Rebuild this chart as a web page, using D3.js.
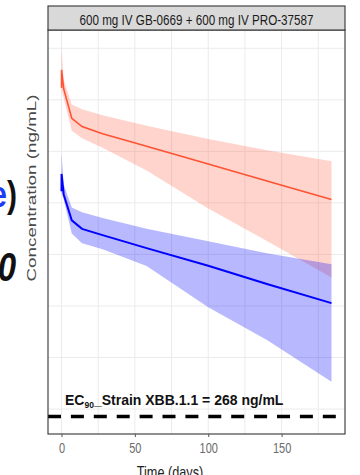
<!DOCTYPE html>
<html>
<head>
<meta charset="utf-8">
<script src="https://cdn.jsdelivr.net/npm/d3@7"></script>
<style>
  body { margin: 0; background: #fff; }
  svg { display: block; font-family: Arial, "Liberation Sans", sans-serif; }
</style>
</head>
<body>
<svg id="chart" width="360" height="475"></svg>
<script>
// time (days) and concentrations (ng/mL)
const days = [0, 0.04, 1.5, 7, 14, 28, 58, 100, 140, 184];

const redMedian = [413000, 617000, 403000, 209500, 174100, 148300, 112300, 75400, 51600, 34100];
const redLow    = [378000, 395000, 330000, 158600, 134200, 108600, 65100, 27900, 13500, 5970];
const redHigh   = [440000, 1000000, 494000, 284800, 255900, 223900, 177300, 131800, 102500, 80100];

const blueMedian = [41000, 60400, 38200, 21400, 17700, 15400, 11500, 7760, 5170, 3370];
const blueLow    = [38100, 39900, 34100, 16000, 12800, 11200, 7730, 3080, 1480, 583];
const blueHigh   = [43400, 96500, 47600, 28550, 25650, 22600, 17700, 13400, 10250, 8020];

const xTicks = [0, 50, 100, 150];
const xGrid = [0, 25, 50, 75, 100, 125, 150, 175];
const yGrid = [316, 1000, 3162, 10000, 31623, 100000, 316228, 1000000];
const ec90 = 268;

const stripTitle = '600 mg IV GB-0669 + 600 mg IV PRO-37587';

const svg = d3.select('#chart');
const panel = {left: 48, right: 345, stripTop: 6, top: 30, bottom: 434};

const x = d3.scaleLinear().domain([-9.2, 193.2]).range([panel.left, panel.right]);
const y = d3.scaleLog().domain([Math.pow(10, 2.2575), Math.pow(10, 6.1775)]).range([panel.bottom, panel.top]);

// cut-off slide text on the left
svg.append('text')
    .attr('transform', 'translate(17,207) scale(1,1.25)')
    .attr('text-anchor', 'end')
    .style('font-size', '30px').style('font-weight', 'bold')
    .call(t => {
        t.append('tspan').attr('fill', '#1f3cf5').text('e');
        t.append('tspan').attr('fill', '#111').text(')');
    });
svg.append('text')
    .attr('transform', 'translate(16,281) scale(1,1.25)')
    .attr('text-anchor', 'end')
    .style('font-size', '33px').style('font-weight', 'bold').style('font-style', 'italic')
    .attr('fill', '#111')
    .text('0');

// grid
const grid = svg.append('g');
grid.selectAll('.gx').data(xGrid).join('line')
    .attr('x1', d => x(d)).attr('x2', d => x(d))
    .attr('y1', panel.top).attr('y2', panel.bottom)
    .attr('stroke', '#ebebeb').attr('stroke-width', 1);
grid.selectAll('.gy').data(yGrid).join('line')
    .attr('x1', panel.left).attr('x2', panel.right)
    .attr('y1', d => y(d)).attr('y2', d => y(d))
    .attr('stroke', '#ebebeb').attr('stroke-width', 1);

const rows = days.map((d, i) => ({
    day: d,
    rMid: redMedian[i], rLo: redLow[i], rHi: redHigh[i],
    bMid: blueMedian[i], bLo: blueLow[i], bHi: blueHigh[i]
}));

const band = (lo, hi) => d3.area().x(d => x(d.day)).y0(d => y(d[lo])).y1(d => y(d[hi]));
const line = key => d3.line().x(d => x(d.day)).y(d => y(d[key]));

const plot = svg.append('g');
plot.append('path').datum(rows)
    .attr('d', band('rLo', 'rHi'))
    .attr('fill', '#ff6347').attr('opacity', 0.28);
plot.append('path').datum(rows)
    .attr('d', band('bLo', 'bHi'))
    .attr('fill', '#0000ff').attr('opacity', 0.28);
plot.append('path').datum(rows)
    .attr('d', line('rMid'))
    .attr('fill', 'none').attr('stroke', '#ff5233').attr('stroke-width', 1.6);
plot.append('path').datum(rows)
    .attr('d', line('bMid'))
    .attr('fill', 'none').attr('stroke', '#0000ff').attr('stroke-width', 2);

// EC90 reference line
svg.append('line')
    .attr('x1', panel.left).attr('x2', panel.right)
    .attr('y1', y(ec90)).attr('y2', y(ec90))
    .attr('stroke', '#000').attr('stroke-width', 3.5)
    .attr('stroke-dasharray', '13,9.9');

svg.append('text')
    .attr('x', 65).attr('y', 405)
    .style('font-size', '14px').style('font-weight', 'bold')
    .attr('fill', '#111')
    .call(t => {
        t.append('tspan').text('EC');
        t.append('tspan').attr('dy', 3).style('font-size', '8.5px').text('90');
        t.append('tspan').attr('dy', -3).text('_Strain XBB.1.1 = ' + ec90 + ' ng/mL');
    });

// panel border + strip
svg.append('rect')
    .attr('x', panel.left).attr('y', panel.top)
    .attr('width', panel.right - panel.left).attr('height', panel.bottom - panel.top)
    .attr('fill', 'none').attr('stroke', '#333').attr('stroke-width', 1.1);
svg.append('rect')
    .attr('x', panel.left).attr('y', panel.stripTop)
    .attr('width', panel.right - panel.left).attr('height', panel.top - panel.stripTop)
    .attr('fill', '#d9d9d9').attr('stroke', '#333').attr('stroke-width', 1.1);
svg.append('text')
    .attr('transform', `translate(${(panel.left + panel.right) / 2},24.5) scale(1,1.2)`)
    .attr('text-anchor', 'middle')
    .attr('textLength', 234).attr('lengthAdjust', 'spacingAndGlyphs')
    .style('font-size', '11.7px')
    .attr('fill', '#1a1a1a')
    .text(stripTitle);

// x axis
const xAxis = svg.append('g')
    .attr('transform', `translate(0,${panel.bottom})`)
    .call(d3.axisBottom(x).tickValues(xTicks).tickSize(3).tickPadding(4.6));
xAxis.select('.domain').remove();
xAxis.selectAll('line').attr('stroke', '#555');
xAxis.selectAll('text')
    .attr('transform', 'scale(1,1.25)')
    .attr('fill', '#6b6b6b')
    .style('font-size', '11px')
    .style('font-family', 'Arial, "Liberation Sans", sans-serif');

svg.append('text')
    .attr('transform', 'translate(170,478) scale(1,1.25)')
    .attr('text-anchor', 'middle')
    .style('font-size', '12.7px')
    .attr('fill', '#222')
    .text('Time (days)');

// y axis title
svg.append('text')
    .attr('transform', 'translate(35.5,188) rotate(-90)')
    .attr('text-anchor', 'middle')
    .attr('textLength', 187).attr('lengthAdjust', 'spacingAndGlyphs')
    .style('font-size', '12px')
    .attr('fill', '#4a4a4a')
    .text('Concentration (ng/mL)');
</script>
</body>
</html>
